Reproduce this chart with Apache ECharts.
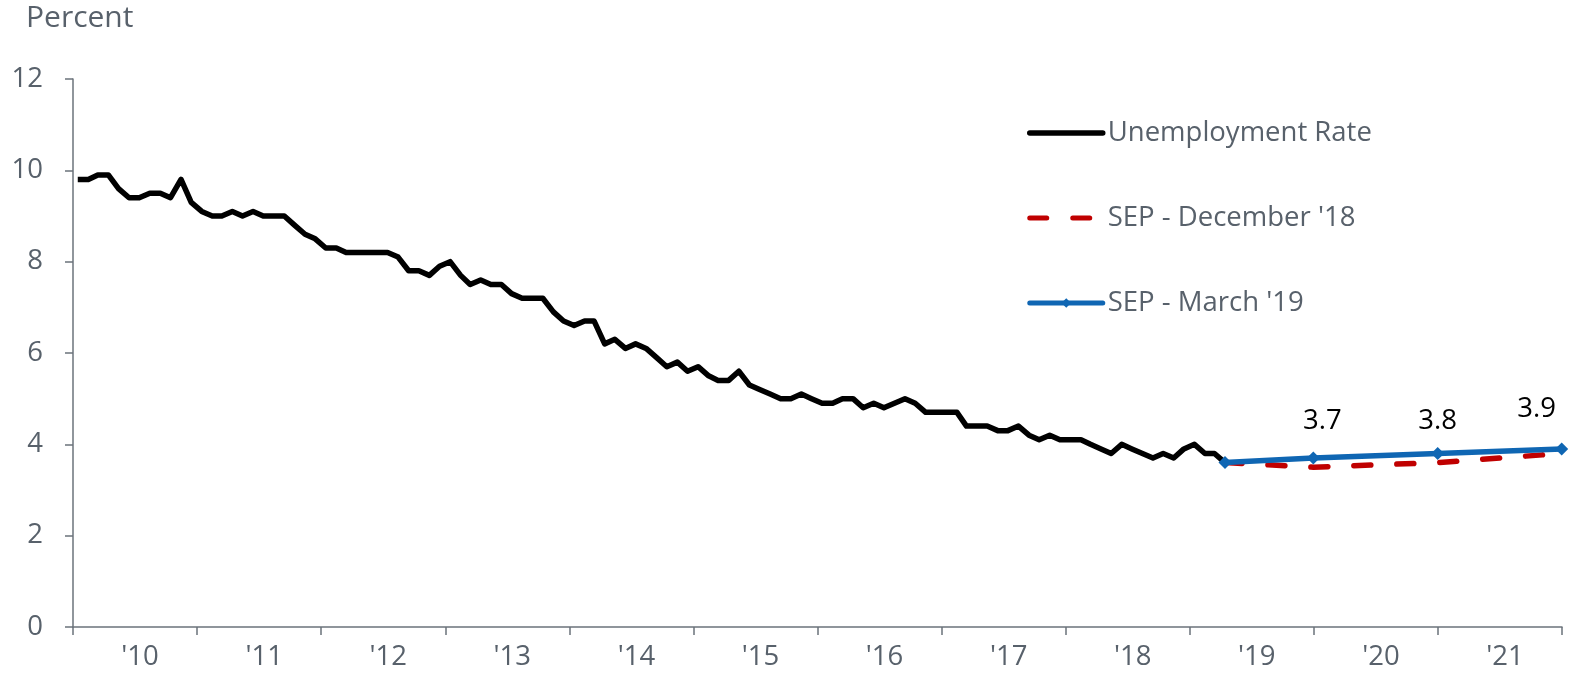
<!DOCTYPE html>
<html>
<head>
<meta charset="utf-8">
<script src="https://cdn.jsdelivr.net/npm/echarts@6/dist/echarts.min.js"></script>
<style>
  html, body { margin: 0; padding: 0; background: #fff; }
  #chart { width: 1571px; height: 683px; }
</style>
</head>
<body>
<div id="chart"></div>
<script>
  // monthly unemployment rate, Jan 2010 - Apr 2019
  const unemployment = [
    9.8, 9.8, 9.9, 9.9, 9.6, 9.4, 9.4, 9.5, 9.5, 9.4, 9.8, 9.3,
    9.1, 9.0, 9.0, 9.1, 9.0, 9.1, 9.0, 9.0, 9.0, 8.8, 8.6, 8.5,
    8.3, 8.3, 8.2, 8.2, 8.2, 8.2, 8.2, 8.1, 7.8, 7.8, 7.7, 7.9,
    8.0, 7.7, 7.5, 7.6, 7.5, 7.5, 7.3, 7.2, 7.2, 7.2, 6.9, 6.7,
    6.6, 6.7, 6.7, 6.2, 6.3, 6.1, 6.2, 6.1, 5.9, 5.7, 5.8, 5.6,
    5.7, 5.5, 5.4, 5.4, 5.6, 5.3, 5.2, 5.1, 5.0, 5.0, 5.1, 5.0,
    4.9, 4.9, 5.0, 5.0, 4.8, 4.9, 4.8, 4.9, 5.0, 4.9, 4.7, 4.7,
    4.7, 4.7, 4.4, 4.4, 4.4, 4.3, 4.3, 4.4, 4.2, 4.1, 4.2, 4.1,
    4.1, 4.1, 4.0, 3.9, 3.8, 4.0, 3.9, 3.8, 3.7, 3.8, 3.7, 3.9,
    4.0, 3.8, 3.8, 3.6
  ];
  const startYear = 2010;

  // SEP projections (Q4 of each year), starting from the last actual reading
  const sepDates = ['2019-04-15', '2019-12-31', '2020-12-31', '2021-12-31'];
  const sepDec18 = [3.6, 3.5, 3.6, 3.8];
  const sepMar19 = [3.6, 3.7, 3.8, 3.9];

  const yearLabels = ["'10", "'11", "'12", "'13", "'14", "'15", "'16", "'17", "'18", "'19", "'20", "'21"];

  const grey = '#58616b';
  const axisGrey = '#6b737b';
  const font = '"Open Sans", "Liberation Sans", Arial, sans-serif';

  const monthDate = (i) => {
    const y = startYear + Math.floor(i / 12);
    const m = (i % 12) + 1;
    return y + '-' + (m < 10 ? '0' + m : m) + '-15';
  };
  const unempData = unemployment.map((v, i) => [monthDate(i), v]);
  const decData = sepDec18.map((v, i) => [sepDates[i], v]);

  const labelOffsets = [[0, 0], [9, 0], [0, 4], [-25, -3]];
  const marData = sepMar19.map((v, i) => ({
    value: [sepDates[i], v],
    label: { show: i > 0, offset: labelOffsets[i] }
  }));

  const chart = echarts.init(document.getElementById('chart'));
  chart.setOption({
    animation: false,
    title: {
      text: 'Percent',
      left: 21,
      top: -2,
      textStyle: { color: grey, fontSize: 30, fontWeight: 'normal', fontFamily: font }
    },
    legend: {
      orient: 'vertical',
      left: 1027,
      top: 117,
      padding: 0,
      itemWidth: 73,
      itemHeight: 12,
      itemGap: 53,
      textStyle: { color: grey, fontSize: 27.5, fontFamily: font, lineHeight: 32 },
      data: [
        { name: 'Unemployment Rate', itemStyle: { opacity: 0 }, lineStyle: { width: 5.5, cap: 'round' } },
        { name: "SEP - December '18", itemStyle: { opacity: 0 }, lineStyle: { width: 5, cap: 'round' } },
        { name: "SEP - March '19", lineStyle: { width: 5, cap: 'round' } }
      ]
    },
    grid: { left: 73, right: 9, top: 79, bottom: 56 },
    xAxis: [
      {
        type: 'category',
        data: yearLabels,
        boundaryGap: true,
        axisLine: { lineStyle: { color: axisGrey, width: 1.5 } },
        axisTick: { show: true, length: 8, interval: 0, lineStyle: { color: axisGrey, width: 1.5 } },
        axisLabel: { color: grey, fontSize: 27.5, fontFamily: font, margin: 16, padding: [0, 0, 0, 10] }
      },
      {
        type: 'time',
        min: '2010-01-01',
        max: '2022-01-01',
        show: false
      }
    ],
    yAxis: {
      type: 'value',
      min: 0,
      max: 12,
      interval: 2,
      splitLine: { show: false },
      axisLine: { show: true, lineStyle: { color: axisGrey, width: 1.5 } },
      axisTick: { show: true, length: 8, lineStyle: { color: axisGrey, width: 1.5 } },
      axisLabel: { color: grey, fontSize: 27.5, fontFamily: font, margin: 30 }
    },
    series: [
      {
        name: 'Unemployment Rate',
        type: 'line',
        xAxisIndex: 1,
        data: unempData,
        symbol: 'none',
        lineStyle: { color: '#000', width: 5.5, join: 'round' },
        itemStyle: { color: '#000' }
      },
      {
        name: "SEP - December '18",
        type: 'line',
        xAxisIndex: 1,
        data: decData,
        symbol: 'none',
        lineStyle: { color: '#c00000', width: 5.5, type: [17, 26], cap: 'round' },
        itemStyle: { color: '#c00000' }
      },
      {
        name: "SEP - March '19",
        type: 'line',
        xAxisIndex: 1,
        data: marData,
        symbol: 'diamond',
        symbolSize: 13,
        showAllSymbol: true,
        lineStyle: { color: '#0f66b3', width: 5.5 },
        itemStyle: { color: '#0f66b3' },
        label: {
          show: true,
          position: 'top',
          distance: 16,
          color: '#000',
          fontSize: 27.5,
          fontFamily: font,
          formatter: (p) => p.value[1].toFixed(1)
        }
      }
    ]
  });
</script>
</body>
</html>
